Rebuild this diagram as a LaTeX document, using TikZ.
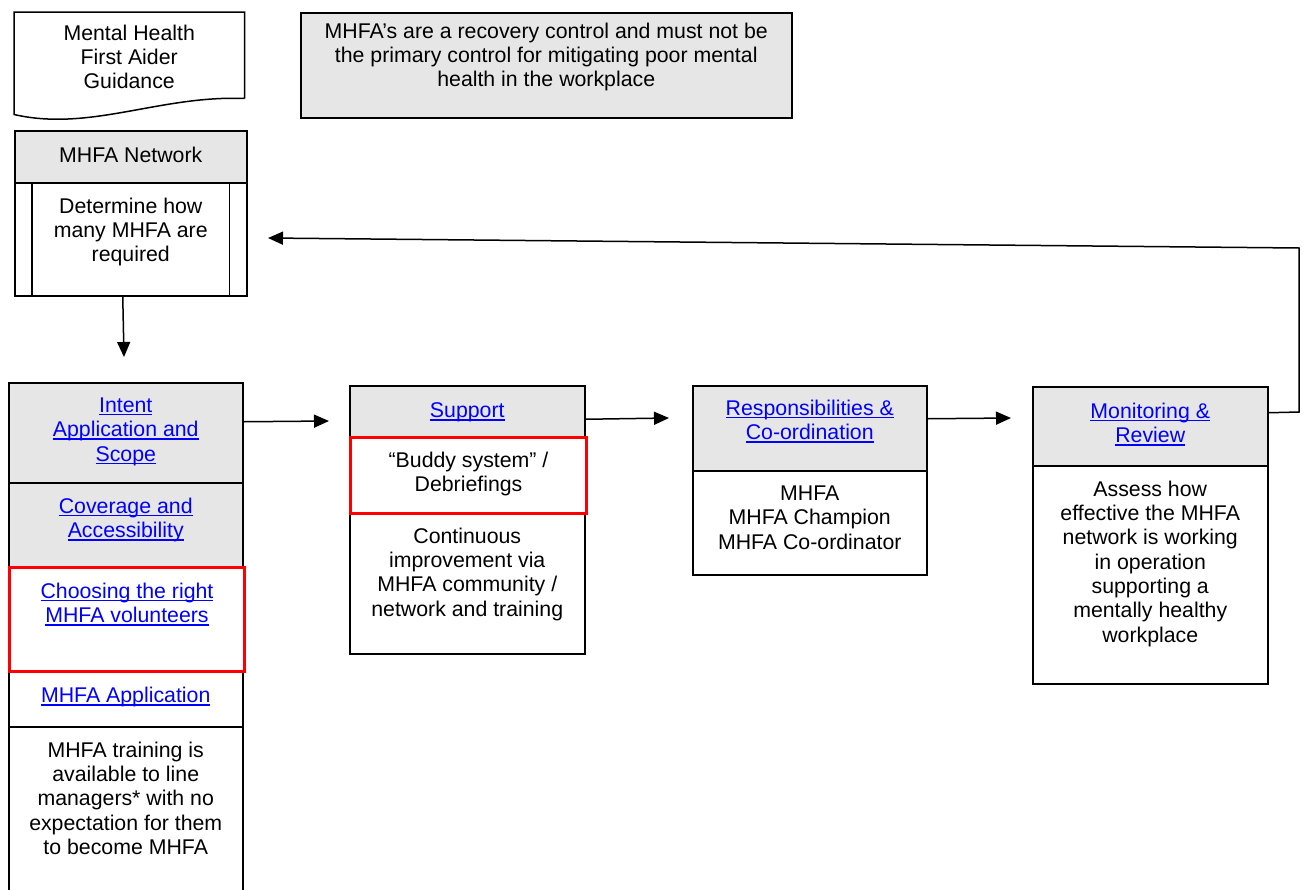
\documentclass[tikz,border=0pt]{standalone}
\usepackage{fontspec}
\setmainfont{Liberation Sans}
\usetikzlibrary{positioning,arrows.meta}
\definecolor{headgray}{HTML}{E6E6E6}
\definecolor{linkblue}{HTML}{0000FF}
\newcommand\lnk[1]{\setbox0\hbox{#1}\rlap{\rule[-3pt]{\wd0}{1.4pt}}\box0}

\begin{document}
\begin{tikzpicture}[x=1pt, y=-1pt,
    box/.style={draw, line width=1.5pt, inner sep=0pt, anchor=north west},
    head/.style={box, fill=headgray},
    redbox/.style={draw=red, line width=3pt, inner sep=0pt, anchor=north west},
    txt/.style={align=center, inner sep=0pt, font=\fontsize{21.3pt}{24.3pt}\selectfont, execute at begin node=\strut},
    link/.style={txt, text=linkblue},
    flow/.style={-{Triangle[length=15pt, width=13pt]}, line width=1.5pt}]
    \useasboundingbox (0,0) rectangle (1306,889);

    % Guidance document and note
    \node[box, draw=none, minimum width=229pt, minimum height=101pt] (doc) at (14,12) {};
    \draw[line width=1.5pt] ([yshift=16pt]doc.south east) -- (doc.north east) -- (doc.north west) -- (doc.south west)
        .. controls (90,132) and (160,95) .. ([yshift=16pt]doc.south east);
    \node[txt, below=12.6pt of doc.north] (doc-t) {Mental Health\\First Aider\\Guidance};
    \node[head, minimum width=491pt, minimum height=105pt] (note) at (300,12) {};
    \node[txt, below=10.6pt of note.north] (note-t) {MHFA’s are a recovery control and must not be\\the primary control for mitigating poor mental\\health in the workplace};

    % MHFA network
    \node[head, minimum width=232pt, minimum height=52pt] (net) at (14,130) {};
    \node[txt, below=15.6pt of net.north] (net-t) {MHFA Network};
    \node[box, minimum width=232pt, minimum height=113pt] (howmany) at (14,182) {};
    \draw[line width=1.5pt] ([xshift=18pt]howmany.north west) -- ([xshift=18pt]howmany.south west);
    \draw[line width=1.5pt] ([xshift=-18pt]howmany.north east) -- ([xshift=-18pt]howmany.south east);
    \node[txt, below=15.6pt of howmany.north] (howmany-t) {Determine how\\many MHFA are\\required};

    % Intent column
    \node[head, minimum width=234pt, minimum height=100pt] (intent) at (8,382) {};
    \node[link, below=15.6pt of intent.north] (intent-t) {\lnk{Intent}\\\lnk{Application and}\\\lnk{Scope}};
    \node[head, minimum width=234pt, minimum height=84pt] (cover) at (8,482) {};
    \node[link, below=15.6pt of cover.north] (cover-t) {\lnk{Coverage and}\\\lnk{Accessibility}};
    \node[box, minimum width=234pt, minimum height=56pt] (app) at (8,670) {};
    \node[link, below=15.6pt of app.north] (app-t) {\lnk{MHFA Application}};
    \node[box, minimum width=234pt, minimum height=180pt] (train) at (8,726) {};
    \node[txt, below=15.6pt of train.north] (train-t) {MHFA training is\\available to line\\managers* with no\\expectation for them\\to become MHFA};
    \node[redbox, minimum width=235pt, minimum height=104pt] (choose) at (8,566) {};
    \node[link, below=16.6pt of choose.north] (choose-t) {\lnk{Choosing the right}\\\lnk{MHFA volunteers}};

    % Support column
    \node[head, minimum width=235pt, minimum height=51pt] (sup) at (349,385) {};
    \node[link, below=15.6pt of sup.north] (sup-t) {\lnk{Support}};
    \node[box, minimum width=235pt, minimum height=141pt] (cont) at (349,512) {};
    \node[txt, below=15.6pt of cont.north] (cont-t) {Continuous\\improvement via\\MHFA community /\\network and training};
    \node[redbox, minimum width=236pt, minimum height=76pt] (buddy) at (349,436) {};
    \node[txt, below=15.6pt of buddy.north] (buddy-t) {“Buddy system” /\\Debriefings};

    % Responsibilities column
    \node[head, minimum width=234pt, minimum height=85pt] (resp) at (692,385) {};
    \node[link, below=14.6pt of resp.north] (resp-t) {\lnk{Responsibilities \&}\\\lnk{Co-ordination}};
    \node[box, minimum width=234pt, minimum height=104pt] (roles) at (692,470) {};
    \node[txt, below=15.6pt of roles.north] (roles-t) {MHFA\\MHFA Champion\\MHFA Co-ordinator};

    % Monitoring column
    \node[head, minimum width=235pt, minimum height=79pt] (mon) at (1032,386) {};
    \node[link, below=16.6pt of mon.north] (mon-t) {\lnk{Monitoring \&}\\\lnk{Review}};
    \node[box, minimum width=235pt, minimum height=218pt] (assess) at (1032,465) {};
    \node[txt, below=15.6pt of assess.north] (assess-t) {Assess how\\effective the MHFA\\network is working\\in operation\\supporting a\\mentally healthy\\workplace};

    % Connectors
    \coordinate (drop) at (124,357);
    \coordinate (to-sup) at (329,421);
    \coordinate (to-resp) at (669,418);
    \coordinate (to-mon) at (1011,418);
    \coordinate (back) at (268,238);
    \draw[flow] ([xshift=-8pt]howmany.south) -- (drop);
    \draw[flow] ([yshift=11pt]intent.east) -- (to-sup);
    \draw[flow] ([yshift=-8pt]sup.east) -- (to-resp);
    \draw[flow] ([yshift=9.5pt]resp.east) -- (to-mon);
    \draw[flow] ([yshift=13.5pt]mon.east) -- (1299,412) -- (1299,248) -- (back);
\end{tikzpicture}
\end{document}
